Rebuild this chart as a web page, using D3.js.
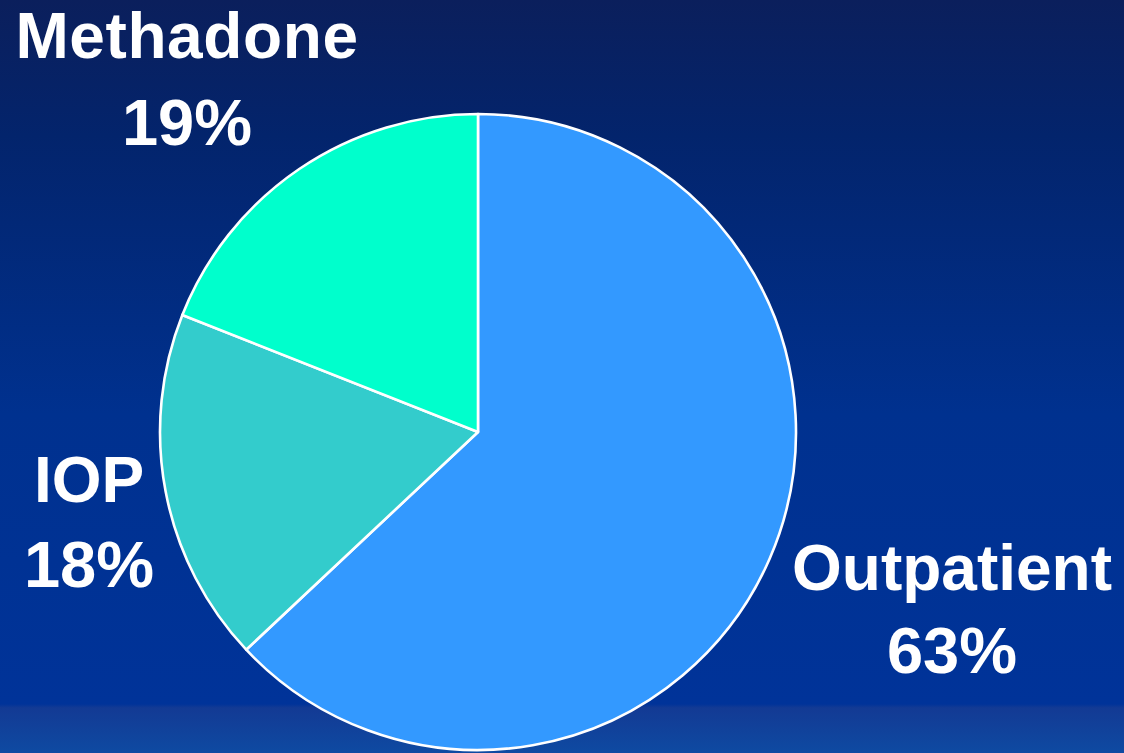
<!DOCTYPE html>
<html>
<head>
<meta charset="utf-8">
<script src="https://cdn.jsdelivr.net/npm/d3@7"></script>
<style>
  html, body { margin: 0; padding: 0; overflow: hidden; }
  svg { display: block; }
  text { font-family: "Liberation Sans", Arial, sans-serif; font-weight: bold; fill: #ffffff; }
</style>
</head>
<body>
<script>
// Treatment modality shares
const categories = ["Outpatient", "IOP", "Methadone"];
const shares = [63, 18, 19];
const sliceColors = ["#3399ff", "#33cccc", "#00ffcc"];

const W = 1124, H = 753;
const cx = 478, cy = 432, R = 318;

const svg = d3.select("body").append("svg")
  .attr("width", W).attr("height", H);

// Slide background: dark navy fading to royal blue, with a lighter strip at the base
const defs = svg.append("defs");
const grad = defs.append("linearGradient")
  .attr("id", "bg").attr("x1", 0).attr("y1", 0).attr("x2", 0).attr("y2", 1);
[[0, "#0b1f5c"], [0.18, "#03246c"], [0.55, "#00318f"], [0.935, "#003399"],
 [0.94, "#133a94"], [1, "#0e4aa2"]].forEach(([o, c]) =>
  grad.append("stop").attr("offset", o).attr("stop-color", c));
svg.append("rect").attr("width", W).attr("height", H).attr("fill", "url(#bg)");

const data = categories.map((c, i) => ({ name: c, value: shares[i], color: sliceColors[i] }));

const pie = d3.pie().value(d => d.value).sort(null);
const arc = d3.arc().innerRadius(0).outerRadius(R);

svg.append("g")
  .attr("transform", `translate(${cx},${cy})`)
  .selectAll("path")
  .data(pie(data))
  .join("path")
  .attr("d", arc)
  .attr("fill", d => d.data.color)
  .attr("stroke", "#ffffff")
  .attr("stroke-width", 2.6)
  .attr("stroke-linejoin", "round");

// Two-line labels placed beside each slice
const labelPos = {
  "Outpatient": { x: 952, y1: 590, y2: 673, ls: 0 },
  "IOP": { x: 89, y1: 502, y2: 587, ls: 0 },
  "Methadone": { x: 187, y1: 58, y2: 145, ls: 0.6 }
};

data.forEach(d => {
  const p = labelPos[d.name];
  svg.append("text")
    .attr("x", p.x).attr("y", p.y1)
    .attr("text-anchor", "middle")
    .style("font-size", "64px")
    .style("letter-spacing", p.ls + "px")
    .text(d.name);
  svg.append("text")
    .attr("x", p.x).attr("y", p.y2)
    .attr("text-anchor", "middle")
    .style("font-size", "65px")
    .text(d.value + "%");
});
</script>
</body>
</html>
